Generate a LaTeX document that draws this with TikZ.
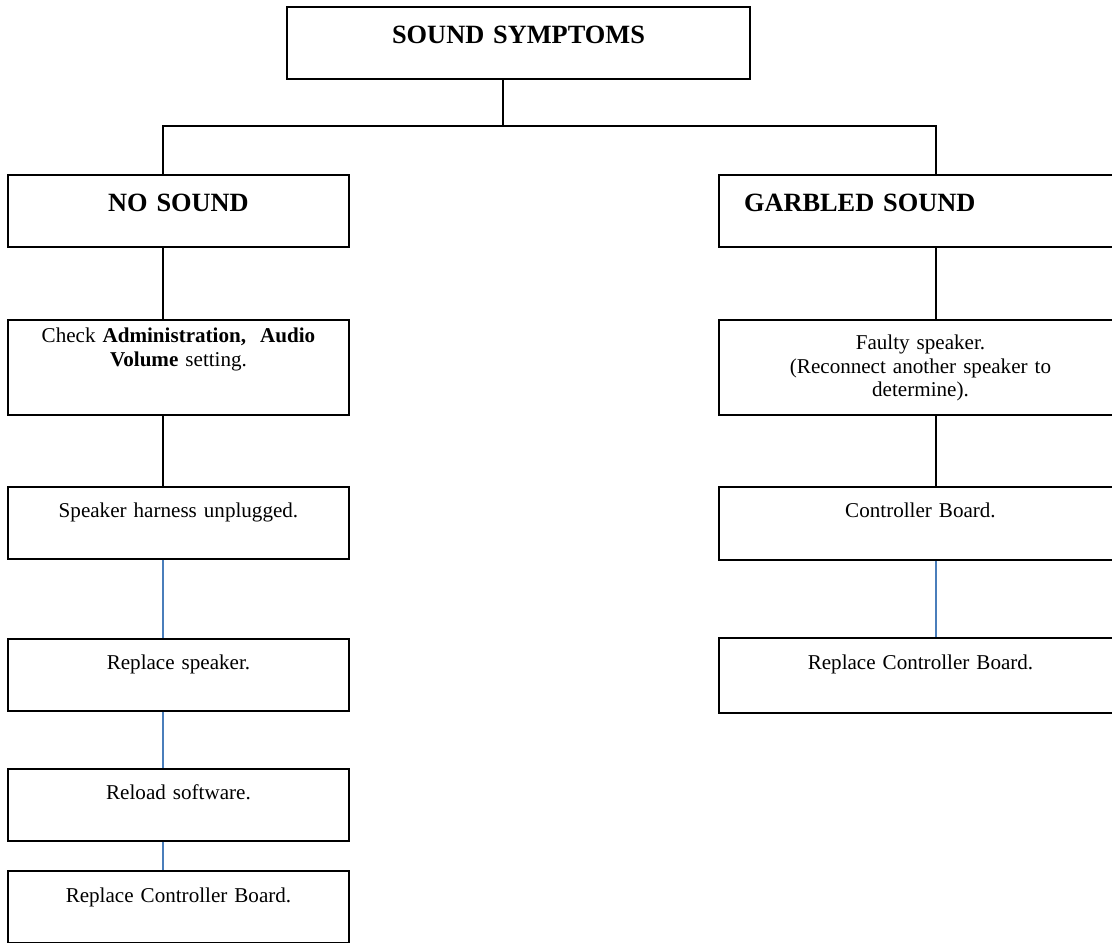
\documentclass[tikz,border=0pt]{standalone}
\usepackage{fontspec}
\setmainfont{Liberation Serif}
\usepackage{xcolor}
\usepackage{tikz}
\definecolor{wordblue}{HTML}{4A7EBB}
\tikzset{
  box/.style={draw,line width=1.1pt,inner sep=0pt,anchor=north,align=center,font=\fontsize{12}{13.3}\selectfont},
  head/.style={font=\fontsize{15}{17}\selectfont\bfseries},
  lbox/.style={text width=6.82cm},
  rbox/.style={text width=8.06cm},
  tall/.style 2 args={text height=#1cm,text depth=#2cm},
  lnk/.style={line width=1.1pt},
  blnk/.style={wordblue,line width=0.8pt}
}
\begin{document}
\begin{tikzpicture}
\clip (0,0) rectangle (22.24,-18.86);
\coordinate (trunk) at (10.06,-2.52);
\coordinate (spine) at (3.26,0);
\coordinate (rspine) at (18.72,0);
\node[box,head,text width=9.26cm,tall={0.74}{0.70}] (symptoms) at (10.37,-0.12) {SOUND SYMPTOMS};
\node[box,head,lbox,tall={0.74}{0.70}] (nosound) at (3.57,-3.48) {NO SOUND};
\node[box,head,rbox,align=left,tall={0.74}{0.70}] (garbled) at (18.41,-3.48) {\hspace*{0.5cm}GARBLED SOUND};
\node[box,lbox,tall={0.46}{1.44}] (check) at (3.57,-6.38) {Check \textbf{Administration,\ \ Audio}\\\textbf{Volume} setting.};
\node[box,lbox,tall={0.62}{0.82}] (harness) at (3.57,-9.72) {Speaker harness unplugged.};
\node[box,lbox,tall={0.62}{0.82}] (newspeaker) at (3.57,-12.76) {Replace speaker.};
\node[box,lbox,tall={0.62}{0.82}] (reload) at (3.57,-15.36) {Reload software.};
\node[box,lbox,tall={0.64}{0.80}] (newboardl) at (3.57,-17.40) {Replace Controller Board.};
\node[box,rbox,tall={0.60}{1.30}] (faulty) at (18.41,-6.38) {Faulty speaker.\\(Reconnect another speaker to\\determine).};
\node[box,rbox,tall={0.62}{0.84}] (board) at (18.41,-9.72) {Controller Board.};
\node[box,rbox,tall={0.64}{0.86}] (newboardr) at (18.41,-12.74) {Replace Controller Board.};
\draw[lnk] (symptoms.south -| trunk) -- (trunk);
\draw[lnk] (nosound.north -| spine) -- (spine |- trunk) -- (rspine |- trunk) -- (garbled.north -| rspine);
\draw[lnk] (nosound.south -| spine) -- (check.north -| spine);
\draw[lnk] (check.south -| spine) -- (harness.north -| spine);
\draw[blnk] (harness.south -| spine) -- (newspeaker.north -| spine);
\draw[blnk] (newspeaker.south -| spine) -- (reload.north -| spine);
\draw[blnk] (reload.south -| spine) -- (newboardl.north -| spine);
\draw[lnk] (garbled.south -| rspine) -- (faulty.north -| rspine);
\draw[lnk] (faulty.south -| rspine) -- (board.north -| rspine);
\draw[blnk] (board.south -| rspine) -- (newboardr.north -| rspine);
\end{tikzpicture}
\end{document}
